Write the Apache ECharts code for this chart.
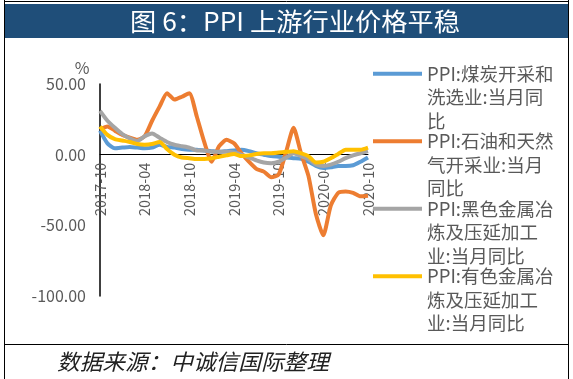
<!DOCTYPE html>
<html>
<head>
<meta charset="utf-8">
<script src="https://cdn.jsdelivr.net/npm/echarts@6/dist/echarts.min.js"></script>
<style>
html,body{margin:0;padding:0;background:#fff;}
#c{width:573px;height:379px;}
</style>
</head>
<body>
<div id="c"></div>
<script>
var categories = ["2017-10","2017-11","2017-12","2018-01","2018-02","2018-03","2018-04","2018-05","2018-06","2018-07","2018-08","2018-09","2018-10","2018-11","2018-12","2019-01","2019-02","2019-03","2019-04","2019-05","2019-06","2019-07","2019-08","2019-09","2019-10","2019-11","2019-12","2020-01","2020-02","2020-03","2020-04","2020-05","2020-06","2020-07","2020-08","2020-09","2020-10"];
var seriesNames = ["PPI:煤炭开采和洗选业:当月同比","PPI:石油和天然气开采业:当月同比","PPI:黑色金属冶炼及压延加工业:当月同比","PPI:有色金属冶炼及压延加工业:当月同比"];
var legendLines = [["PPI:煤炭开采和","洗选业:当月同","比"],["PPI:石油和天然","气开采业:当月","同比"],["PPI:黑色金属冶","炼及压延加工","业:当月同比"],["PPI:有色金属冶","炼及压延加工","业:当月同比"]];
var coal = [17,8,4.5,5,5.5,5,4.5,5,7,5.5,5,4,3.5,3.5,3,2.5,2,2.5,3,3.5,2.5,1,0,-1,-1.5,-2,-2.5,-3,-5,-8,-9.5,-9,-8,-8,-7.5,-5,-2];
var oil = [18,20,17,14,12,10.5,13,24,34,43.5,39,41,43.5,27,9,-5,6,10.5,8,1,-5,-10,-12,-16,-14,2,19,1,-15,-42,-57,-36,-27,-26,-27,-29.5,-29];
var ferrous = [31,24,19,14.5,11.5,9.5,13,15,12,9,7,6,5,3,3,2,2,2,1.5,0,-2,-4,-5.5,-6,-5,-2,1,-1,-3,-7,-8,-7,-5,-2.5,-0.5,1,2.5];
var nonferrous = [20,14,11,10,9,7.5,7,7.5,9,4,0,-2,-2.5,-3,-3,-2.5,-1.5,-0.5,0.5,-1,-0.5,0.5,1,1,1.5,2,2.5,1,-1,-5.5,-5,-2.5,0.5,3.5,3.5,3.5,5];
var yTicks = [-100,-50,0,50];
var colors = ["#5B9BD5","#ED7D31","#A5A5A5","#FFC000"];

var chart = echarts.init(document.getElementById('c'), null, {renderer:'canvas'});
var dataSets = [coal, oil, ferrous, nonferrous];
var series = dataSets.map(function(d, i){
  return {
    name: seriesNames[i], type: 'line', data: d, showSymbol: false, symbol: 'none',
    smooth: 0.2, lineStyle: {width: 4, color: colors[i]}, itemStyle: {color: colors[i]}
  };
});
var font = '"Noto Sans CJK SC", "Noto Sans", sans-serif';
var gridTop = 84, gridBottomY = 296;
var yMin = yTicks[0], yMax = yTicks[yTicks.length-1];
var zeroOffset = (gridBottomY - gridTop) * (0 - yMin) / (yMax - yMin);
chart.setOption({
  animation: false,
  backgroundColor: '#fff',
  grid: {left: 100, right: 205, top: gridTop, bottom: 379 - gridBottomY, containLabel: false},
  xAxis: {
    type: 'category', data: categories, boundaryGap: false,
    offset: -zeroOffset,
    axisLine: {onZero: false, lineStyle: {color: '#000', width: 1}},
    axisTick: {show: false},
    axisLabel: {rotate: 90, interval: 5, color: '#595959', fontSize: 14.5, margin: 8, fontFamily: font}
  },
  yAxis: {
    type: 'value', min: yMin, max: yMax, interval: 50,
    name: '%', nameLocation: 'end', nameGap: 5,
    nameTextStyle: {color: '#595959', fontSize: 16, fontFamily: font, verticalAlign: 'middle', padding: [14, 36, 0, 0]},
    axisLine: {show: true, lineStyle: {color: '#000', width: 1.5}},
    axisTick: {show: false}, splitLine: {show: false},
    axisLabel: {color: '#595959', fontSize: 16, margin: 14, fontFamily: font,
      formatter: function(v){ return v.toFixed(2); }}
  },
  legend: {
    orient: 'vertical', left: 373, top: 15, padding: 0, itemGap: -50,
    icon: 'rect', itemWidth: 49, itemHeight: 4,
    data: seriesNames,
    textStyle: {color: '#595959', fontSize: 18.5, lineHeight: 23.5, fontFamily: font},
    formatter: function(name){
      var idx = seriesNames.indexOf(name);
      return '\n\n' + legendLines[idx].join('\n');
    }
  },
  graphic: [
    {type: 'rect', shape: {x: 5, y: 4, width: 563, height: 34}, style: {fill: '#1F4E79'}, z: 0},
    {type: 'text', x: 295, y: 21, scaleX: 1.05, style: {text: '图 6：PPI 上游行业价格平稳', fill: '#fff', fontSize: 25, fontFamily: font, align: 'center', verticalAlign: 'middle'}},
    {type: 'line', shape: {x1: 4.5, y1: 0, x2: 4.5, y2: 379}, style: {stroke: '#000', lineWidth: 1}},
    {type: 'line', shape: {x1: 568.5, y1: 0, x2: 568.5, y2: 379}, style: {stroke: '#000', lineWidth: 1}},
    {type: 'line', shape: {x1: 4, y1: 1.5, x2: 569, y2: 1.5}, style: {stroke: '#000', lineWidth: 1}},
    {type: 'line', shape: {x1: 4, y1: 344.5, x2: 569, y2: 344.5}, style: {stroke: '#000', lineWidth: 1}},
    {type: 'text', x: 57, y: 362, scaleX: 1.03, style: {text: '数据来源：中诚信国际整理', fill: '#222', fontSize: 22, fontStyle: 'italic', fontFamily: font, verticalAlign: 'middle'}}
  ],
  series: series
});
</script>
</body>
</html>
